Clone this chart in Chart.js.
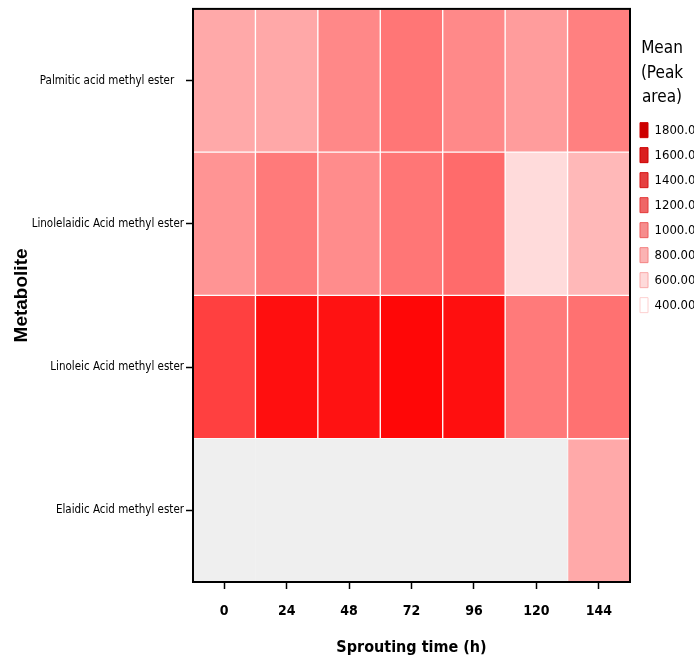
<!DOCTYPE html>
<html>
<head>
<meta charset="utf-8">
<script src="https://cdn.jsdelivr.net/npm/chart.js@4.4.0/dist/chart.umd.min.js"></script>
<style>
html, body { margin: 0; padding: 0; background: #fff; overflow: hidden; }
#wrap { width: 694px; height: 665px; }
</style>
</head>
<body>
<div id="wrap"><canvas id="heat"></canvas></div>
<script>
var times = ['0', '24', '48', '72', '96', '120', '144'];
// rows listed bottom to top
var metabolites = ['Elaidic Acid methyl ester', 'Linoleic Acid methyl ester', 'Linolelaidic Acid methyl ester', 'Palmitic acid methyl ester   '];
var elaidic = [null, null, null, null, null, null, 870];
var linoleic = [1450, 1720, 1700, 1760, 1720, 1130, 1180];
var linolelaidic = [990, 1130, 1030, 1150, 1210, 600, 790];
var palmitic = [870, 880, 1055, 1150, 1050, 945, 1100];
var legendSteps = [1800, 1600, 1400, 1200, 1000, 800, 600, 400];
var rows = [elaidic, linoleic, linolelaidic, palmitic];

var narrow = "'Liberation Sans Narrow', 'Arial Narrow', 'DejaVu Sans Condensed', sans-serif";

function heatColor(v) {
    if (v === null) return '#efefef';
    var t = Math.max(0, Math.min(1, (v - 400) / 1400));
    var g = Math.round(255 * (1 - t));
    return 'rgb(255,' + g + ',' + g + ')';
}
function keyColor(v) {
    var t = (v - 400) / 1400;
    var r = Math.round(255 - 50 * t * t);
    var g = Math.round(r * (1 - t));
    return 'rgb(' + r + ',' + g + ',' + g + ')';
}

var datasets = rows.map(function (vals, r) {
    return {
        label: metabolites[r],
        data: vals.map(function () { return [r, r + 1]; }),
        backgroundColor: vals.map(heatColor),
        borderColor: vals.map(function (v) { return v === null ? '#efefef' : 'rgba(255,255,255,0.25)'; }),
        borderWidth: 1,
        borderSkipped: false,
        barPercentage: 1,
        categoryPercentage: 1,
        grouped: false
    };
});

var framePlugin = {
    id: 'frame',
    afterDatasetsDraw: function (chart) {
        var a = chart.chartArea, c = chart.ctx;
        c.save();
        c.strokeStyle = '#000';
        c.lineWidth = 2;
        c.strokeRect(a.left, a.top, a.right - a.left, a.bottom - a.top);
        c.restore();
    }
};

new Chart(document.getElementById('heat').getContext('2d'), {
    type: 'bar',
    data: { labels: times, datasets: datasets },
    plugins: [framePlugin],
    options: {
        responsive: true,
        maintainAspectRatio: false,
        animation: false,
        layout: { padding: { top: 7, left: 0, right: 0, bottom: 0 } },
        plugins: {
            tooltip: { enabled: false },
            legend: {
                position: 'right',
                align: 'start',
                maxWidth: 64,
                onClick: null,
                title: {
                    display: true,
                    text: ['Mean', '(Peak', 'area)'],
                    color: '#000',
                    font: { family: narrow, size: 17, lineHeight: 1.45 },
                    padding: { top: 33, bottom: 48 }
                },
                labels: {
                    boxWidth: 8,
                    boxHeight: 15,
                    padding: 10,
                    color: '#000',
                    font: { family: narrow, size: 13 },
                    generateLabels: function () {
                        return legendSteps.map(function (s) {
                            return {
                                text: s.toFixed(2),
                                fillStyle: keyColor(s),
                                strokeStyle: keyColor(Math.min(1800, s + 250)),
                                lineWidth: 1,
                                hidden: false
                            };
                        });
                    }
                }
            }
        },
        scales: {
            x: {
                type: 'category',
                offset: true,
                grid: { offset: false, drawOnChartArea: false, tickLength: 7, tickColor: '#000', tickWidth: 1.5 },
                border: { color: '#000', width: 2 },
                ticks: { color: '#000', padding: 14, font: { family: narrow, size: 14, weight: 'bold' } },
                title: {
                    display: true,
                    text: 'Sprouting time (h)',
                    color: '#000',
                    font: { family: narrow, size: 16, weight: 'bold' },
                    padding: { top: 4, bottom: 8 }
                },
                afterFit: function (s) { s.height = 83; }
            },
            y: {
                type: 'linear',
                min: 0,
                max: 4,
                afterBuildTicks: function (s) {
                    s.ticks = [0.5, 1.5, 2.5, 3.5].map(function (v) { return { value: v }; });
                },
                grid: { drawOnChartArea: false, tickLength: 7, tickColor: '#000', tickWidth: 1.5 },
                border: { color: '#000', width: 2 },
                ticks: {
                    color: '#000',
                    padding: 2,
                    font: { family: narrow, size: 11.5 },
                    callback: function (v) { return metabolites[Math.floor(v)]; }
                },
                title: {
                    display: true,
                    text: 'Metabolite',
                    color: '#000',
                    font: { family: "'Liberation Sans', Arial, sans-serif", size: 19, weight: 'bold' },
                    padding: { top: 10, bottom: 0 }
                },
                afterFit: function (s) { s.width = 193; }
            }
        }
    }
});
</script>
</body>
</html>
